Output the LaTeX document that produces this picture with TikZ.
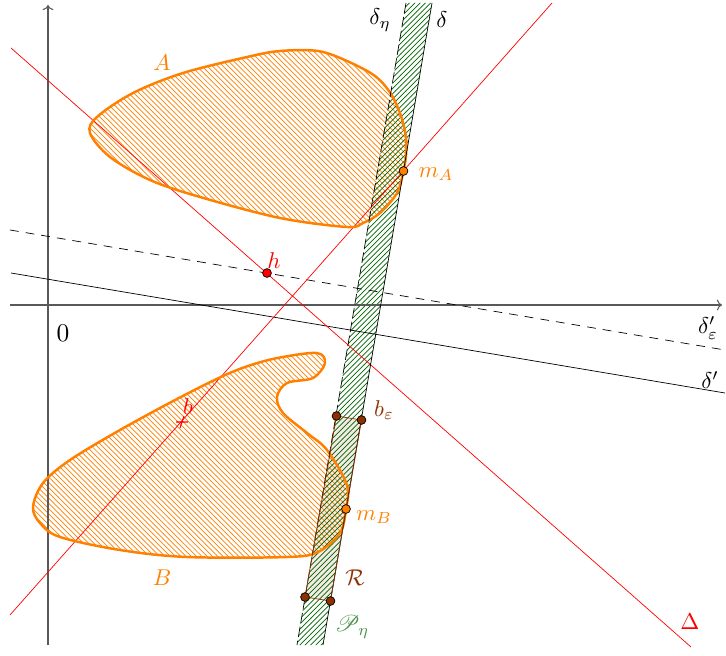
\documentclass[tikz,border=0pt]{standalone}
\usepackage{amsmath, amssymb}
\usepackage{mathrsfs}
\usepackage{xcolor}
\usepackage{tikz}
\usetikzlibrary{arrows.meta, patterns, calc}
\definecolor{setorange}{RGB}{255,128,0}
\definecolor{stripgreen}{RGB}{0,100,0}
\definecolor{rectbrown}{RGB}{140,50,0}
\newcommand{\shapeA}{plot[smooth cycle, tension=0.55] coordinates {(0.84,3.44) (0.98,3.76) (1.70,4.24) (2.70,4.64) (3.98,4.96) (4.64,5.08) (5.40,5.08) (5.98,4.88) (6.54,4.58) (6.86,4.22) (7.06,3.78) (7.16,3.36) (7.16,3.00) (7.11,2.68) (6.98,2.24) (6.64,1.84) (6.30,1.64) (5.98,1.56) (4.64,1.74) (3.04,2.16) (2.04,2.50) (1.24,2.96)}}
\newcommand{\shapeB}{plot[smooth cycle, tension=0.55] coordinates {(2.58,-1.88) (1.44,-2.50) (0.44,-3.10) (-0.10,-3.56) (-0.30,-4.04) (-0.16,-4.36) (0.24,-4.64) (1.44,-4.90) (2.78,-5.04) (4.78,-5.04) (5.40,-4.94) (5.84,-4.56) (5.96,-4.08) (5.98,-3.60) (5.58,-2.90) (5.18,-2.56) (4.70,-2.16) (4.58,-1.84) (4.78,-1.56) (5.30,-1.46) (5.54,-1.16) (5.38,-0.96) (4.64,-1.05) (4.06,-1.20) (3.50,-1.42)}}

\begin{document}
\begin{tikzpicture}[
    axis/.style={->, draw=black!65, line width=0.6pt},
    hatchset/.style={pattern=north west lines, pattern color=setorange},
    border/.style={draw=setorange, line width=1.4pt},
    hatchstrip/.style={pattern=north east lines, pattern color=stripgreen},
    redline/.style={red, line width=0.4pt},
    dot/.style={circle, draw=black, inner sep=0pt, minimum size=5pt},
    lbl/.style={scale=1.3}
]
\useasboundingbox (-0.96,-7.00) rectangle (13.56,6.10);

% strip ends, lines ends, rectangle corners
\coordinate (dt) at (7.68,6.04);
\coordinate (db) at (5.50,-6.80);
\coordinate (et) at (7.16,6.04);
\coordinate (eb) at (4.98,-6.80);
\coordinate (r1) at (5.77,-2.22);
\coordinate (r2) at (6.27,-2.30);
\coordinate (r3) at (5.65,-5.92);
\coordinate (r4) at (5.14,-5.84);

\fill[rectbrown!10] (r1) -- (r2) -- (r3) -- (r4) -- cycle;
\fill[hatchset] \shapeA;
\fill[hatchset] \shapeB;
\fill[hatchstrip] (et) -- (dt) -- (db) -- (eb) -- cycle;

% axes
\coordinate (xa) at (-0.76,0);
\coordinate (xb) at (13.48,0);
\coordinate (ya) at (0,-6.80);
\coordinate (yb) at (0,6.00);
\draw[axis] (xa) -- (xb);
\draw[axis] (ya) -- (yb);
\node[scale=1.45] (o) at (0.30,-0.56) {$0$};

% lines delta' and delta'_eps
\coordinate (p1) at (-0.74,0.64);
\coordinate (p2) at (13.54,-1.76);
\coordinate (q1) at (-0.76,1.50);
\coordinate (q2) at (13.54,-0.90);
\draw (p1) -- (p2);
\draw[dash pattern=on 5pt off 4pt] (q1) -- (q2);
\node[lbl] (ldp) at (13.24,-1.50) {$\delta'$};
\node[lbl] (lde) at (13.20,-0.46) {$\delta'_\varepsilon$};

% red lines
\coordinate (u1) at (-0.74,5.14);
\coordinate (u2) at (12.86,-6.84);
\coordinate (v1) at (-0.76,-6.20);
\coordinate (v2) at (10.08,6.04);
\draw[redline] (u1) -- (u2);
\draw[redline] (v1) -- (v2);
\node[lbl, red] (lD) at (12.84,-6.34) {$\Delta$};

\draw[border] \shapeA;
\draw[border] \shapeB;
\draw[dash pattern=on 6pt off 2pt] (et) -- (eb);
\draw (dt) -- (db);
\draw[rectbrown] (r1) -- (r2) -- (r3) -- (r4) -- cycle;

\node[lbl, setorange] (lA) at (2.28,4.84) {$A$};
\node[lbl, setorange] (lB) at (2.28,-5.46) {$B$};
\node[lbl] (lde2) at (6.64,5.70) {$\delta_\eta$};
\node[lbl] (ld) at (7.88,5.70) {$\delta$};

% points
\coordinate (b) at (2.68,-2.34);
\draw[red, line width=0.6pt] ($(b)+(-0.12,0)$) -- ($(b)+(0.12,0)$) ($(b)+(-0.04,-0.12)$) -- ($(b)+(0.04,0.12)$);
\node[lbl, red] (lb) at (2.80,-2.04) {$b$};
\node[dot, fill=red] (h) at (4.38,0.64) {};
\node[lbl, red] (lh) at (4.52,0.88) {$h$};
\node[dot, fill=setorange] (mA) at (7.11,2.68) {};
\node[lbl, setorange] (lmA) at (7.76,2.62) {$m_A$};
\node[dot, fill=setorange] (mB) at (5.96,-4.08) {};
\node[lbl, setorange] (lmB) at (6.52,-4.24) {$m_B$};
\foreach \c in {r1,r2,r3,r4}
    \node[dot, fill=rectbrown] (d\c) at (\c) {};
\node[lbl, rectbrown] (lbe) at (6.72,-2.10) {$b_\varepsilon$};
\node[lbl, rectbrown] (lR) at (6.14,-5.46) {$\mathcal{R}$};
\node[lbl, stripgreen!70] (lP) at (6.08,-6.44) {$\mathscr{P}_\eta$};
\end{tikzpicture}
\end{document}
